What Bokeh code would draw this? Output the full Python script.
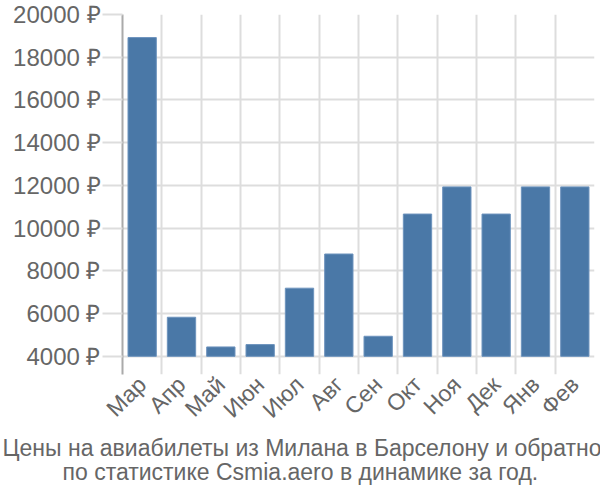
import math
from bokeh.plotting import figure
from bokeh.models import FixedTicker, Range1d, Title, ColumnDataSource
from bokeh.embed import file_html
from bokeh.resources import INLINE

months = ["Мар", "Апр", "Май", "Июн", "Июл", "Авг", "Сен", "Окт", "Ноя", "Дек", "Янв", "Фев"]
prices = [18920, 5830, 4440, 4550, 7190, 8790, 4940, 10660, 11930, 10660, 11930, 11930]
y_ticks = [4000, 6000, 8000, 10000, 12000, 14000, 16000, 18000, 20000]
title_lines = ["Цены на авиабилеты из Милана в Барселону и обратно",
               "по статистике Csmia.aero в динамике за год."]

FONT = "Liberation Sans"
GRAY = "#666666"

centers = [i + 0.5 for i in range(len(months))]
src = ColumnDataSource(dict(x=centers, top=prices))

p = figure(frame_width=472, frame_height=360, output_backend="svg", toolbar_location=None,
           x_range=Range1d(0, len(months)), y_range=Range1d(3150, 20000))
p.min_border_left = 122
p.min_border_right = 6
p.min_border_top = 14
p.min_border_bottom = 126
p.outline_line_color = None

p.vbar(x="x", top="top", bottom=4000, width=0.72, source=src,
       fill_color="#4a78a7", line_color="#6d93bd", line_width=1)

# x axis
p.xaxis.ticker = FixedTicker(ticks=centers)
p.xaxis.major_label_overrides = {c: m for c, m in zip(centers, months)}
p.xaxis.major_label_orientation = math.pi / 4
p.xaxis.axis_line_color = None
p.xaxis.major_tick_line_color = None
p.xaxis.minor_tick_line_color = None
p.xaxis.major_label_text_font = FONT
p.xaxis.major_label_text_font_size = "23px"
p.xaxis.major_label_text_color = GRAY
p.xaxis.major_label_standoff = 0
p.xgrid.ticker = FixedTicker(ticks=list(range(len(months) + 1)))
p.xgrid.grid_line_color = "#dddddd"
p.xgrid.grid_line_width = 2

# y axis
p.yaxis.ticker = FixedTicker(ticks=y_ticks)
p.yaxis.major_label_overrides = {t: f"{t} ₽" for t in y_ticks}
p.yaxis.axis_line_color = "#aaaaaa"
p.yaxis.axis_line_width = 2
p.yaxis.major_tick_line_color = "#dddddd"
p.yaxis.major_tick_line_width = 2
p.yaxis.major_tick_out = 20
p.yaxis.major_tick_in = 0
p.yaxis.minor_tick_line_color = None
p.yaxis.major_label_text_font = FONT
p.yaxis.major_label_text_font_size = "24px"
p.yaxis.major_label_text_color = GRAY
p.yaxis.major_label_standoff = 2
p.ygrid.grid_line_color = "#dddddd"
p.ygrid.grid_line_width = 2

# caption: left-aligned titles shifted so that each line sits centred on the canvas
for line, off in zip(title_lines, [-120, -60]):
    p.add_layout(Title(text=line, align="left", offset=off, text_font=FONT,
                       text_font_size="23px", text_color=GRAY, text_font_style="normal",
                       standoff=-4), "below")

open("out.html", "w").write(file_html(p, INLINE))
